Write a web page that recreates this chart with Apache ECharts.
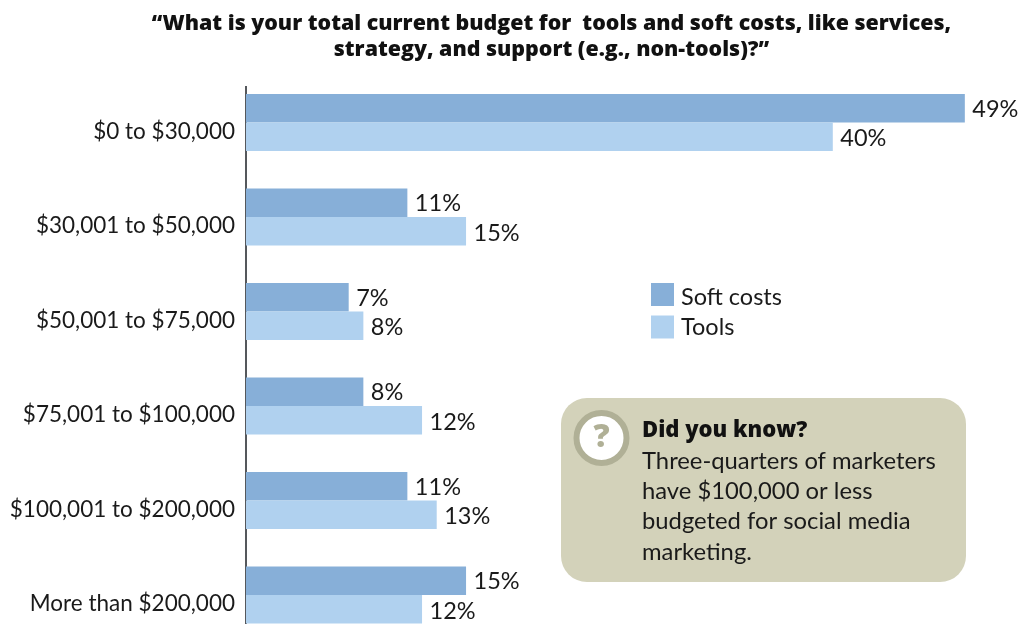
<!DOCTYPE html>
<html>
<head>
<meta charset="utf-8">
<style>html,body{margin:0;padding:0;background:#fff}#c{width:1022px;height:624px}</style>
<script src="https://cdn.jsdelivr.net/npm/echarts@6/dist/echarts.min.js"></script>
</head>
<body>
<div id="c"></div>
<script>
const categories = ['$0 to $30,000','$30,001 to $50,000','$50,001 to $75,000','$75,001 to $100,000','$100,001 to $200,000','More than $200,000'];
const softCosts = [49,11,7,8,11,15];
const tools = [40,15,8,12,13,12];
const titleLines = ['“What is your total current budget for  tools and soft costs, like services,','strategy, and support (e.g., non-tools)?”'];
const calloutHead = 'Did you know?';
const calloutBody = ['Three-quarters of marketers','have $100,000 or less','budgeted for social media','marketing.'];
const FONT = 'Lato';
const BOLD = 'Open Sans';
const chart = echarts.init(document.getElementById('c'), null, {renderer:'canvas'});
const label = {show:true, position:'right', distance:7.5, formatter:'{c}%', fontFamily:FONT, fontSize:23.5, color:'#1a1a1a'};
const legendText = {fontFamily:FONT, fontSize:23.5, color:'#1a1a1a'};
chart.setOption({
  animation:false,
  backgroundColor:'#fff',
  title:{left:546.5, top:6, textAlign:'center', text:titleLines.join('\n'),
    textStyle:{fontFamily:BOLD, fontWeight:800, fontSize:21.36, lineHeight:26, color:'#111'}},
  legend:{left:651, top:283, padding:0, orient:'vertical', itemWidth:23, itemHeight:23, itemGap:6, icon:'rect',
    selectedMode:false, formatter:n=>(n==='Tools'?'{b|':'{a|')+n+'}',
    textStyle:{rich:{a:{...legendText, padding:[6,0,0,2]}, b:{...legendText, padding:[1,0,0,2]}}},
    data:['Soft costs','Tools']},
  grid:{left:246, top:75.25, width:733.5, height:567, outerBoundsMode:'none'},
  xAxis:{type:'value', min:0, max:50, show:false},
  yAxis:{type:'category', inverse:true, data:categories,
    axisLine:{show:false}, axisTick:{show:false},
    axisLabel:{margin:11, verticalAlign:'top', lineHeight:18, fontFamily:FONT, fontSize:22.5, color:'#1a1a1a'}},
  series:[
    {name:'Soft costs', type:'bar', data:softCosts, barWidth:28.6, barGap:0, itemStyle:{color:'#87afd8'}, label:{...label, offset:[0,1]}},
    {name:'Tools', type:'bar', data:tools, barWidth:28.6, barGap:0, itemStyle:{color:'#b0d1ef'}, label:{...label, offset:[0,2]}}
  ],
  graphic:[
    {type:'line', shape:{x1:246,y1:86,x2:246,y2:624}, style:{stroke:'#55585c', lineWidth:2}},
    {type:'rect', shape:{x:561,y:398,width:405,height:184,r:26}, style:{fill:'#d3d2ba'}},
    {type:'circle', shape:{cx:601.5,cy:438,r:25}, style:{fill:'#fff', stroke:'#b0b096', lineWidth:6}},
    {type:'text', x:601.5, y:438, style:{text:'?', fontFamily:BOLD, fontWeight:800, fontSize:32, fill:'#b0b096', align:'center', verticalAlign:'middle'}},
    {type:'text', x:642, y:430.5, style:{text:calloutHead, fontFamily:BOLD, fontWeight:800, fontSize:22, fill:'#111', verticalAlign:'middle'}},
    ...calloutBody.map((t,i)=>({type:'text', x:642, y:461+i*30.4, style:{text:t, fontFamily:FONT, fontSize:23.8, fill:'#1a1a1a', verticalAlign:'middle'}}))
  ]
});
</script>
</body>
</html>
